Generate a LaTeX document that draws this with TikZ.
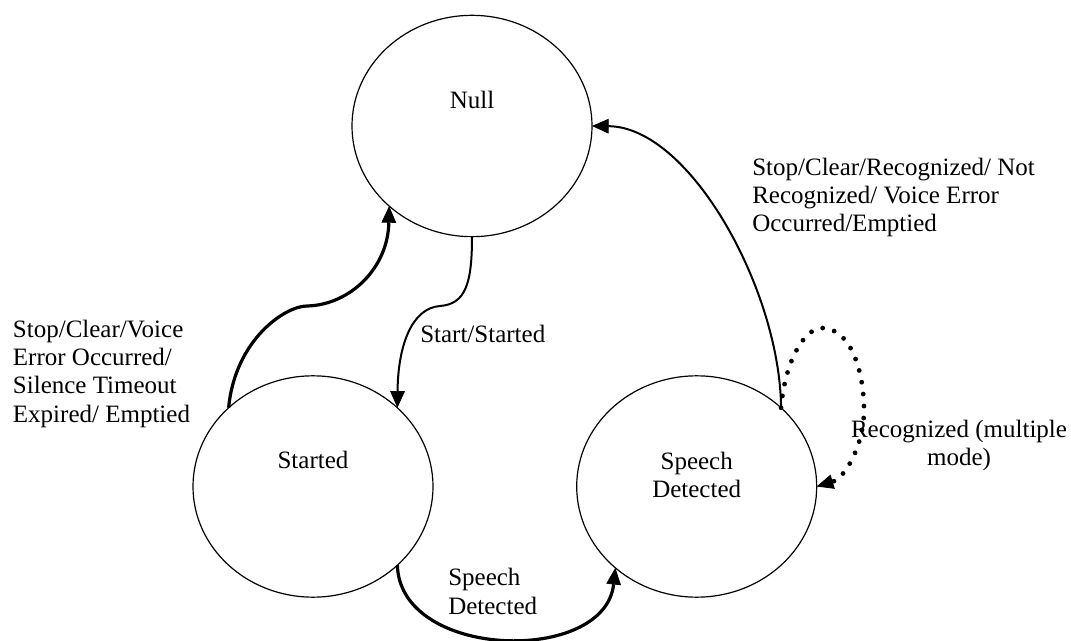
\documentclass[tikz,border=0pt]{standalone}
\usepackage{fontspec}
\setmainfont{Liberation Serif}
\usetikzlibrary{arrows.meta,calc,shapes.geometric}

\tikzset{
	state/.style={ellipse, draw, line width=0.9pt, inner sep=0pt, outer sep=0pt, minimum width=180pt, minimum height=166pt},
	note/.style={inner sep=0pt, font=\fontsize{18.75}{21.25}\selectfont},
	link/.style={line width=1.5pt, -{Triangle[length=12.5pt, width=11pt, line width=0.6pt]}},
	boldlink/.style={link, line width=2.4pt},
	dotlink/.style={line width=3.6pt, line cap=round, dash pattern=on 0pt off 9pt, -{Triangle[length=12.5pt, width=11pt, line width=0.6pt]}}
}

\begin{document}
\begin{tikzpicture}[x=0.75pt, y=-0.75pt]
		%%%%% START %%%%%
		\useasboundingbox (0, 0) rectangle (1071, 641);
		
		\node[state] (null) at (472, 126) {};
		\node[state] (started) at (313, 486.5) {};
		\node[state] (speech) at (696.7, 486.5) {};
		
		% base of a multi-line note is its last line
		\node[note, anchor=base] (nulltext) at ($(null)+(0, -17.7)$) {Null};
		\node[note, anchor=base] (startedtext) at ($(started)+(0, -18.2)$) {Started};
		\node[note, anchor=base, align=center] (speechtext) at ($(speech)+(0, 11.1)$) {Speech\\Detected};
		
		\draw[link] (null.270) .. controls (472, 285) and (465, 304) .. (440, 306)
			.. controls (412, 308) and (398, 345) .. (started.43);
		\draw[boldlink] (started.137) .. controls (235, 340) and (285, 306) .. (307, 306)
			.. controls (350, 305) and (388, 268) .. (null.224);
		\draw[boldlink] (started.317) .. controls (400, 660) and (605, 665) .. (speech.225);
		\draw[link] (speech.43) .. controls (780, 290) and (690, 127) .. (null.0);
		\draw[dotlink] (speech.43) .. controls (785, 360) and (805, 328) .. (822, 328)
			.. controls (850, 328) and (864, 370) .. (864, 410)
			.. controls (864, 445) and (845, 478) .. (speech.0);
		
		\node[note, anchor=base west] (starttext) at (420, 342.7) {Start/Started};
		\node[note, anchor=base west, align=left] (detecttext) at (448, 614.3) {Speech\\Detected};
		\node[note, anchor=base west, align=left] (stoptext) at (12.7, 422.3) {Stop/Clear/Voice\\Error Occurred/\\Silence Timeout\\Expired/ Emptied};
		\node[note, anchor=base west, align=left] (resettext) at (752, 231.7) {Stop/Clear/Recognized/ Not\\Recognized/ Voice Error\\Occurred/Emptied};
		\node[note, anchor=base, align=center] (recogtext) at (959, 465.6) {Recognized (multiple\\mode)};
		
		%%%%% END %%%%%
\end{tikzpicture}
\end{document}
